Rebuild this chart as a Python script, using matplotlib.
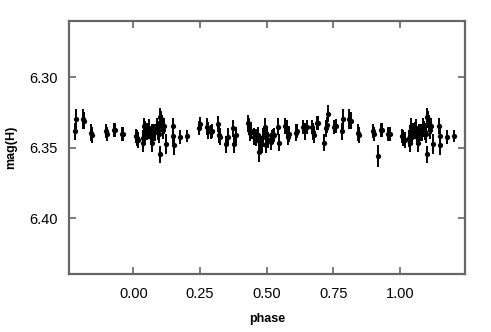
import matplotlib
matplotlib.use("Agg")
import matplotlib.pyplot as plt
import numpy as np

# Base observations, phase in [0, 1)
phase = [0.009, 0.0125, 0.018, 0.035, 0.0375, 0.040, 0.0425, 0.045, 0.050, 0.0575,
         0.060, 0.065, 0.069, 0.071, 0.075, 0.081, 0.0875, 0.091, 0.094, 0.0975,
         0.100, 0.100, 0.104, 0.109, 0.1125, 0.116, 0.1225, 0.1475, 0.149, 0.151,
         0.175, 0.2025,
         0.246, 0.250, 0.275, 0.279, 0.291, 0.296, 0.319, 0.321, 0.325, 0.346,
         0.354, 0.375, 0.379, 0.384,
         0.431, 0.435, 0.4375, 0.440, 0.454, 0.460, 0.466, 0.471, 0.475, 0.481,
         0.4875, 0.494, 0.496, 0.500, 0.506, 0.515, 0.521, 0.525, 0.5275, 0.541,
         0.5475, 0.569, 0.5775, 0.581, 0.584, 0.610, 0.6125, 0.6375, 0.644, 0.650,
         0.669, 0.675, 0.679, 0.6875, 0.694, 0.715, 0.721, 0.725, 0.731, 0.754,
         0.759,
         0.7825, 0.786, 0.810, 0.8165, 0.8415, 0.8456, 0.8975, 0.9015, 0.928, 0.932,
         0.9566, 0.961]
mag = [6.3416, 6.3430, 6.3444, 6.3433, 6.3468, 6.3345, 6.3357, 6.3397, 6.3385, 6.3378,
       6.3357, 6.3421, 6.3468, 6.3381, 6.3392, 6.3390, 6.3345, 6.3366, 6.3385, 6.3404,
       6.3284, 6.3546, 6.3296, 6.3326, 6.3374, 6.3345, 6.3475, 6.3345, 6.3416, 6.3480,
       6.3421, 6.3416,
       6.3362, 6.3331, 6.3350, 6.3378, 6.3385, 6.3381, 6.3331, 6.3409, 6.3421, 6.3473,
       6.3421, 6.3362, 6.3473, 6.3409,
       6.3326, 6.3350, 6.3392, 6.3378, 6.3421, 6.3428, 6.3409, 6.3527, 6.3463, 6.3473,
       6.3421, 6.3350, 6.3480, 6.3409, 6.3444, 6.3456, 6.3426, 6.3416, 6.3409, 6.3350,
       6.3463, 6.3345, 6.3362, 6.3421, 6.3402, 6.3392, 6.3378, 6.3354, 6.3381, 6.3350,
       6.3350, 6.3385, 6.3409, 6.3326, 6.3321, 6.3463, 6.3362, 6.3338, 6.3258, 6.3355,
       6.3345,
       6.3381, 6.3296, 6.3293, 6.3307, 6.3392, 6.3409, 6.3381, 6.3402, 6.3371, 6.3374,
       6.3400, 6.3402]
err = [0.005, 0.006, 0.006, 0.006, 0.006, 0.006, 0.005, 0.006, 0.006, 0.006,
       0.006, 0.006, 0.006, 0.005, 0.006, 0.006, 0.006, 0.006, 0.006, 0.006,
       0.007, 0.006, 0.006, 0.006, 0.006, 0.006, 0.007, 0.006, 0.006, 0.007,
       0.005, 0.004,
       0.005, 0.005, 0.006, 0.006, 0.005, 0.005, 0.006, 0.006, 0.006, 0.006,
       0.006, 0.006, 0.006, 0.006,
       0.006, 0.006, 0.006, 0.006, 0.006, 0.006, 0.006, 0.007, 0.006, 0.006,
       0.006, 0.006, 0.006, 0.006, 0.006, 0.006, 0.005, 0.005, 0.005, 0.006,
       0.006, 0.006, 0.006, 0.006, 0.006, 0.006, 0.005, 0.005, 0.006, 0.005,
       0.005, 0.006, 0.006, 0.005, 0.005, 0.006, 0.006, 0.006, 0.006, 0.005,
       0.005,
       0.006, 0.007, 0.007, 0.006, 0.006, 0.006, 0.005, 0.005, 0.005, 0.005,
       0.005, 0.005]

# Single observation shown only once
phase_extra = [0.9163]
mag_extra = [6.3558]
err_extra = [0.008]

xticks = [0.0, 0.25, 0.5, 0.75, 1.0]
xticklabels = ["0.00", "0.25", "0.50", "0.75", "1.00"]
yticks = [6.30, 6.35, 6.40]
yticklabels = ["6.30", "6.35", "6.40"]

ph = np.array(phase); mg = np.array(mag); er = np.array(err)
lo = ph >= 0.78
hi = ph <= 0.21
all_ph = np.concatenate([ph, ph[lo] - 1, ph[hi] + 1, phase_extra])
all_mg = np.concatenate([mg, mg[lo], mg[hi], mag_extra])
all_er = np.concatenate([er, er[lo], er[hi], err_extra])

plt.rcParams['font.family'] = ['Liberation Sans', 'DejaVu Sans']
fig = plt.figure(figsize=(4.91, 3.32), dpi=100)
ax = fig.add_axes([69/491, 58/332, 396/491, 253/332])

ax.errorbar(all_ph, all_mg, yerr=all_er, fmt='o', color='black', ms=3.8,
            elinewidth=1.4, capsize=0, mew=0)

ax.set_xlim(-0.241, 1.244)
ax.set_ylim(6.4395, 6.2600)
ax.set_xticks(xticks)
ax.set_xticklabels(xticklabels)
ax.set_yticks(yticks)
ax.set_yticklabels(yticklabels)

for s in ax.spines.values():
    s.set_color('#666666')
    s.set_linewidth(1.6)
ax.tick_params(direction='in', length=5, width=1.2, color='#666666',
               top=True, right=True, labelsize=10.5, pad=8)
ax.tick_params(axis='x', pad=9)

ax.set_xlabel('phase', fontsize=9, fontweight='bold', labelpad=9)
ax.set_ylabel('mag(H)', fontsize=9, fontweight='bold', labelpad=9)

fig.savefig('out.png', dpi=100)
